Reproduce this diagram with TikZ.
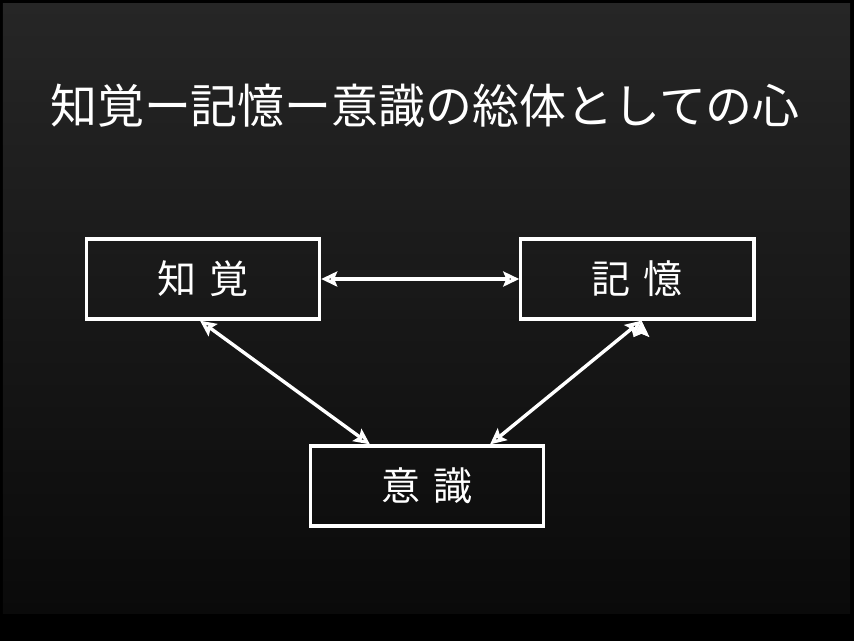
\documentclass[tikz,border=0pt]{standalone}
\usepackage{fontspec}
\setmainfont{Noto Sans CJK JP}
\usetikzlibrary{arrows.meta, positioning}

\definecolor{slidetop}{HTML}{262626}
\definecolor{slidebottom}{HTML}{0A0A0A}

\begin{document}
\begin{tikzpicture}[x=0.01cm, y=-0.01cm, node distance = 1.98cm,
    mindbox/.style = {draw=white, line width=0.32mm, minimum width=2.33cm,
                      minimum height=0.80cm, inner sep=0pt, text=white,
                      font=\fontsize{11.1pt}{12pt}\selectfont},
    link/.style = {{Stealth[length=1.6mm, width=1.5mm, inset=0.3mm]}-{Stealth[length=1.6mm, width=1.5mm, inset=0.3mm]},
                   draw=white, line width=0.34mm}]
    % frame and slide background
    \fill[black] (0,0) rectangle (854,641);
    \shade[top color=slidetop, bottom color=slidebottom] (3,3) rectangle (850,613);
    \useasboundingbox (0,0) rectangle (854,641);

    \node (title) [text=white, font=\fontsize{13.35pt}{15pt}\selectfont] at (425,106)
        {知覚ー記憶ー意識の総体としての心};

    \node (perc) [mindbox] at (203,279) {知\hspace{0.33em}覚};
    \node (mem)  [mindbox, right= of perc] {記\hspace{0.33em}憶};
    \node (cons) [mindbox] at (427,486) {意\hspace{0.33em}識};

    \path[link]
        (perc) edge (mem)
        ([xshift=-0.03cm]perc.south) edge ([xshift=-0.57cm]cons.north)
        ([xshift=0.04cm]mem.south) edge ([xshift=0.63cm]cons.north);
\end{tikzpicture}
\end{document}
